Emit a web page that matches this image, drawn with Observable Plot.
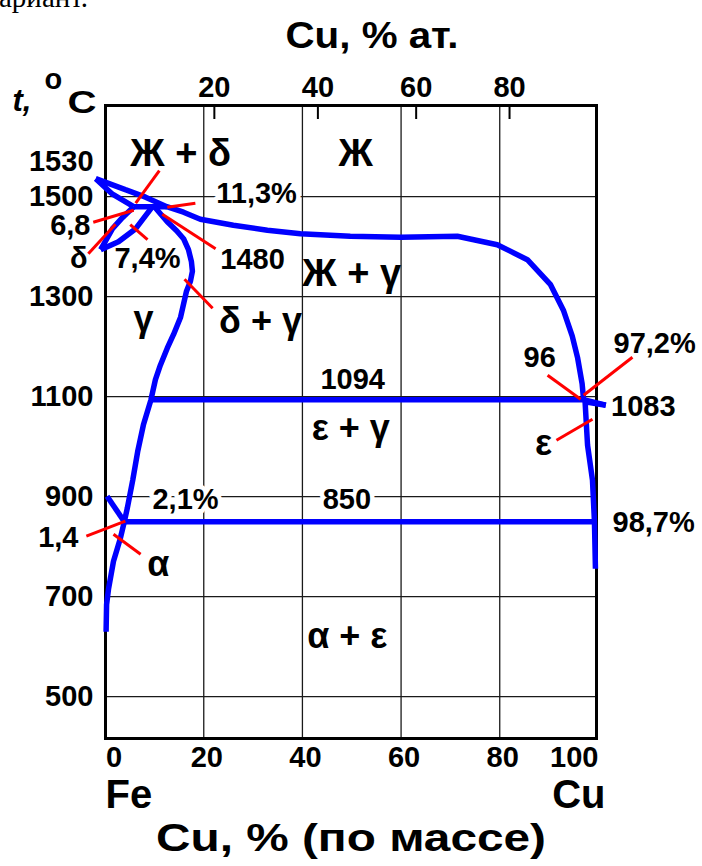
<!DOCTYPE html>
<html>
<head>
<meta charset="utf-8">
<script src="https://cdn.jsdelivr.net/npm/d3@7"></script>
<script src="https://cdn.jsdelivr.net/npm/@observablehq/plot@0.6"></script>
<style>
  body { margin: 0; background: #fff; overflow: hidden; }
  #page { position: relative; width: 702px; height: 866px; }
  #chart { position: absolute; left: 0; top: 0; }
  #note { position: absolute; left: -1px; top: -19px; font: 29px "Liberation Serif", serif; color: #000; white-space: nowrap; z-index: 2; }
</style>
</head>
<body>
<div id="page">
  <div id="chart"></div>
  <div id="note">ариант.</div>
</div>
<script>
// Fe–Cu phase diagram: temperature (°C) against copper content (mass %).

// Axis ticks
const massTicks = [0, 20, 40, 60, 80, 100];
const atomicTicks = [20, 40, 60, 80];
const tempTicks = [500, 700, 900, 1100, 1300, 1500];

// Molar masses, used to place the atomic-percent ticks on the mass-percent axis
const M_CU = 63.546, M_FE = 55.845;
const atToMass = a => 100 * a * M_CU / (a * M_CU + (100 - a) * M_FE);
const atomicTickMass = atomicTicks.map(atToMass);

// Phase boundaries, [Cu mass %, t °C]
const liquidus = [[-1.9,1536],[4.1,1514],[8.2,1499],[12.5,1480],[15.9,1469],[19.3,1455],[26.0,1443],[32.9,1433],[39.6,1426],[49.7,1421],[59.9,1419],[71.4,1421],[79.5,1404],[85.6,1374],[90.3,1324],[92.9,1273],[94.7,1221],[95.8,1177],[96.7,1126],[97.0,1094],[101.5,1083]];
const deltaSolidus = [[-1.9,1536],[1.5,1505],[5.8,1480]];
const peritecticFe = [[5.8,1480],[12.5,1480]];
const deltaBoundary = [[5.8,1480],[3.5,1458],[1.5,1436],[-0.9,1394]];
const gammaDeltaBoundary = [[9.6,1480],[6.2,1436],[2.7,1410],[-0.9,1394]];
const gammaBoundary = [[10.0,1480],[12.6,1450],[14.5,1432],[15.9,1416],[16.9,1394],[17.5,1370],[17.7,1351],[17.3,1331],[16.5,1311],[15.3,1259],[13.9,1225],[12.6,1197],[11.2,1163],[10.2,1134],[9.3,1094],[7.8,1045],[6.6,990],[5.6,933],[4.5,877],[3.9,850],[3.1,817],[1.7,771],[0.7,716],[0.3,684],[0.2,630]];
const alphaBoundary = [[0.4,901],[3.9,850]];
const epsilonBoundary = [[101.5,1083],[97.3,1090],[97.8,1003],[98.8,933],[99.2,850],[99.4,756]];
const peritecticCu = [[9.3,1094],[97.3,1094]];
const eutectoid = [[3.9,850],[99.2,850]];
const boundaries = [liquidus, deltaSolidus, peritecticFe, deltaBoundary, gammaDeltaBoundary,
  gammaBoundary, alphaBoundary, epsilonBoundary, peritecticCu, eutectoid];

// Leader lines from the labels to their points
const leaders = [
  {x1: 11.0, y1: 1552, x2: 6.2, y2: 1487},
  {x1: -2.4, y1: 1449, x2: 5.8, y2: 1473},
  {x1: 18.3, y1: 1487, x2: 12.6, y2: 1479},
  {x1: -3.4, y1: 1386, x2: 2.1, y2: 1445},
  {x1: 8.6, y1: 1414, x2: 5.1, y2: 1444},
  {x1: 22.4, y1: 1396, x2: 11.6, y2: 1465},
  {x1: 21.8, y1: 1277, x2: 16.1, y2: 1335},
  {x1: -3.8, y1: 821, x2: 4.1, y2: 851},
  {x1: 7.2, y1: 785, x2: 1.7, y2: 825},
  {x1: 89.7, y1: 1143, x2: 96.4, y2: 1095},
  {x1: 106.9, y1: 1179, x2: 97.0, y2: 1103},
  {x1: 91.5, y1: 1013, x2: 98.8, y2: 1055}
];

// Phase fields
const phaseLabels = [
  {text: "Ж + δ", x: 15.3, y: 1585},
  {text: "Ж", x: 50.8, y: 1585},
  {text: "Ж + γ", x: 50.0, y: 1345},
  {text: "γ", x: 7.8, y: 1254},
  {text: "δ + γ", x: 31.5, y: 1250},
  {text: "ε + γ", x: 49.8, y: 1036},
  {text: "α", x: 10.8, y: 764},
  {text: "ε", x: 88.9, y: 1007},
  {text: "α + ε", x: 49.1, y: 621}
];
// Compositions and temperatures of the special points
const pointLabels = [
  {text: "1480", x: 29.9, y: 1374},
  {text: "7,4%", x: 8.6, y: 1375},
  {text: "1094", x: 50.2, y: 1134},
  {text: "96", x: 88.1, y: 1178},
  {text: "97,2%", x: 111.4, y: 1206},
  {text: "1083", x: 109.1, y: 1080},
  {text: "98,7%", x: 111.2, y: 847}
];
const gridLabels = [
  {text: "11,3%", x: 30.7, y: 1505},
  {text: "2,1%", x: 16.3, y: 893},
  {text: "850", x: 49.0, y: 893}
];
const sideLabels = [
  {text: "1530", x: -2.35, y: 1570},
  {text: "6,8", x: -2.96, y: 1441},
  {text: "δ", x: -3.57, y: 1376},
  {text: "1,4", x: -5.4, y: 817}
];

const FONT = "'Liberation Sans', Arimo, Arial, sans-serif";
const num = {fontSize: 29, fontWeight: "bold", fill: "black"};
const big = {fontWeight: "bold", fill: "black"};

const plot = Plot.plot({
  width: 702,
  height: 866,
  marginTop: 105,
  marginRight: 106,
  marginBottom: 128,
  marginLeft: 105,
  style: {fontFamily: FONT, color: "black", background: "white", overflow: "visible"},
  x: {domain: [0, 100], range: [104.6, 597.9], label: null},
  y: {domain: [416.4, 1682.4], range: [738, 105], label: null},
  marks: [
    Plot.ruleY(tempTicks, {stroke: "#1a1a1a", strokeWidth: 1.3}),
    Plot.ruleX([20, 40, 60, 80], {stroke: "#1a1a1a", strokeWidth: 1.3}),
    Plot.frame({stroke: "black", strokeWidth: 3}),
    Plot.tickX(atomicTickMass, {stroke: "black", strokeWidth: 2, insetBottom: 619}),
    Plot.text(gridLabels, {x: "x", y: "y", text: "text", ...num, stroke: "white", strokeWidth: 9}),
    Plot.text(pointLabels, {x: "x", y: "y", text: "text", ...num}),
    Plot.text(phaseLabels.filter(d => d.text.includes("Ж")), {x: "x", y: "y", text: "text", fontSize: 38, ...big}),
    Plot.text(phaseLabels.filter(d => !d.text.includes("Ж")), {x: "x", y: "y", text: "text", fontSize: 36, ...big}),
    Plot.text(sideLabels, {x: "x", y: "y", text: "text", ...num, textAnchor: "end"}),
    ...boundaries.map(b => Plot.line(b, {x: d => d[0], y: d => d[1], stroke: "#0000ff", strokeWidth: 5.5, strokeLinejoin: "miter", strokeLinecap: "butt"})),
    Plot.link(leaders, {x1: "x1", y1: "y1", x2: "x2", y2: "y2", stroke: "#ff0000", strokeWidth: 3}),
    Plot.axisY(tempTicks, {anchor: "left", tickSize: 0, tickPadding: 12, ...num, label: null, tickFormat: d => String(d)}),
    Plot.axisX([20, 40, 60, 80], {anchor: "bottom", tickSize: 0, tickPadding: 8, dx: 3, ...num, label: null}),
    Plot.axisX([0], {anchor: "bottom", tickSize: 0, tickPadding: 8, textAnchor: "start", dx: 1, ...num, label: null}),
    Plot.axisX([100], {anchor: "bottom", tickSize: 0, tickPadding: 8, textAnchor: "end", dx: 0, ...num, label: null, tickFormat: d => String(d)}),
    Plot.axisX(atomicTickMass, {anchor: "top", tickSize: 0, tickPadding: 9, ...num, label: null,
      tickFormat: d => String(atomicTicks[atomicTickMass.indexOf(d)])}),
    Plot.text(["Cu, % ат."], {frameAnchor: "top", dx: 21, dy: -84, fontSize: 37, ...big}),
    Plot.text(["Cu, % (по массе)"], {frameAnchor: "bottom", dx: 0, dy: 112, fontSize: 38, ...big}),
    Plot.text(["Fe"], {frameAnchor: "bottom-left", textAnchor: "start", dy: 69, fontSize: 40, ...big}),
    Plot.text(["Cu"], {frameAnchor: "bottom-right", textAnchor: "end", dx: 9, dy: 69, fontSize: 40, ...big}),
    Plot.text(["t,"], {frameAnchor: "top-left", textAnchor: "start", lineAnchor: "bottom", dx: -93, dy: 5, fontSize: 31, fontStyle: "italic", ...big}),
    Plot.text(["o"], {frameAnchor: "top-left", textAnchor: "start", lineAnchor: "bottom", dx: -61, dy: -17, fontSize: 29, ...big}),
    Plot.text(["C"], {frameAnchor: "top-left", textAnchor: "start", lineAnchor: "bottom", dx: -38, dy: 7, fontSize: 31, ...big})
  ]
});

document.getElementById("chart").append(plot);

// The axis titles are set wide: stretch them to their drawn lengths
const stretch = {"Cu, % ат.": 173, "Cu, % (по массе)": 390, "C": 29};
d3.select(plot).selectAll("text").each(function () {
  const t = this.textContent;
  if (stretch[t] && this.childElementCount === 0) {
    this.setAttribute("textLength", stretch[t]);
    this.setAttribute("lengthAdjust", "spacingAndGlyphs");
  }
});
</script>
</body>
</html>
